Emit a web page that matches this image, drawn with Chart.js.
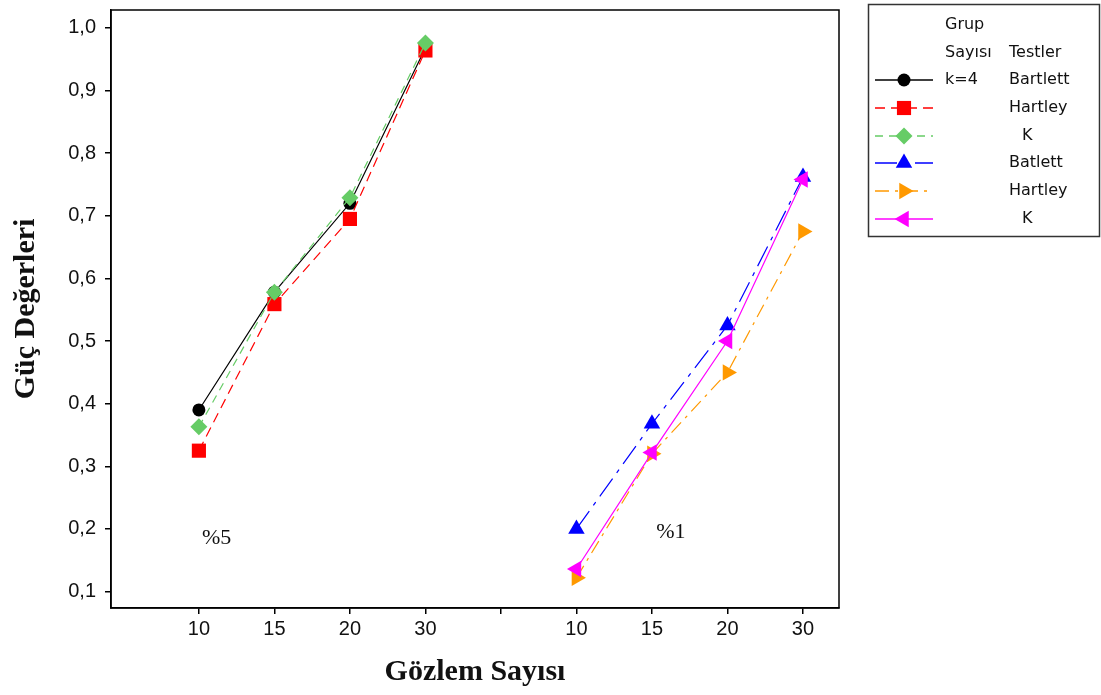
<!DOCTYPE html>
<html>
<head>
<meta charset="utf-8">
<script src="https://cdn.jsdelivr.net/npm/chart.js@4/dist/chart.umd.min.js"></script>
<style>
  html, body { margin: 0; padding: 0; background: #fff; }
  #wrap { width: 1101px; height: 695px; position: relative; }
</style>
</head>
<body>
<div id="wrap"><canvas id="chart" width="1101" height="695"></canvas></div>
<script>
// gozlem sayisi (iki grup: %5 ve %1)
var tickLabels = ['10', '15', '20', '30', '', '10', '15', '20', '30'];
var tickPositions = [1, 2, 3, 4, 5, 6, 7, 8, 9];
var leftX = [1, 2, 3, 4];
var rightX = [6, 7, 8, 9];
var yTicks = [0.1, 0.2, 0.3, 0.4, 0.5, 0.6, 0.7, 0.8, 0.9, 1.0];

// guc degerleri %5
var bartlett5 = [0.39, 0.578, 0.72, 0.968];
var hartley5 = [0.325, 0.559, 0.695, 0.964];
var k5 = [0.363, 0.578, 0.729, 0.976];

// guc degerleri %1
var batlett1 = [0.2, 0.368, 0.525, 0.762];
var hartley1 = [0.122, 0.32, 0.45, 0.675];
var k1 = [0.136, 0.322, 0.5, 0.758];

var tickFont = '"Liberation Sans", sans-serif';

function toPoints(xs, ys) {
    return xs.map(function (x, i) { return { x: x, y: ys[i] }; });
}

var datasets = [
    { label: 'Bartlett', data: toPoints(leftX, bartlett5), borderColor: '#000000', backgroundColor: '#000000',
      borderDash: [], pointStyle: 'circle', pointRadius: 6.5, rotation: 0 },
    { label: 'Hartley', data: toPoints(leftX, hartley5), borderColor: '#ff0000', backgroundColor: '#ff0000',
      borderDash: [10, 6], pointStyle: 'rect', pointRadius: 10, rotation: 0 },
    { label: 'K', data: toPoints(leftX, k5), borderColor: '#66cc66', backgroundColor: '#66cc66',
      borderDash: [8, 6], pointStyle: 'rectRot', pointRadius: 8.5, rotation: 0 },
    { label: 'Batlett', data: toPoints(rightX, batlett1), borderColor: '#0000ff', backgroundColor: '#0000ff',
      borderDash: [22, 7, 4, 7], pointStyle: 'triangle', pointRadius: 9.5, rotation: 0 },
    { label: 'Hartley', data: toPoints(rightX, hartley1), borderColor: '#ff9900', backgroundColor: '#ff9900',
      borderDash: [14, 6, 3, 6], pointStyle: 'triangle', pointRadius: 9.5, rotation: 90 },
    { label: 'K', data: toPoints(rightX, k1), borderColor: '#ff00ff', backgroundColor: '#ff00ff',
      borderDash: [], pointStyle: 'triangle', pointRadius: 9.5, rotation: -90 }
];
datasets.forEach(function (ds, i) {
    ds.borderWidth = 1.2;
    ds.pointBorderWidth = 0;
    ds.pointRotation = ds.rotation;
    ds.pointBackgroundColor = ds.backgroundColor;
    ds.showLine = true;
    ds.fill = false;
    ds.order = 10 - i; // sonraki seriler ustte
});

// kutu, etiketler (%5, %1) ve legend
var extras = {
    id: 'extras',
    afterDraw: function (chart) {
        var ctx = chart.ctx;
        var a = chart.chartArea;
        var xs = chart.scales.x, ys = chart.scales.y;
        ctx.save();
        ctx.strokeStyle = '#000';
        ctx.lineWidth = 1.5;
        ctx.strokeRect(a.left, a.top, a.right - a.left, a.bottom - a.top);

        ctx.fillStyle = '#111';
        ctx.font = '22px "Liberation Serif", serif';
        ctx.textAlign = 'center';
        ctx.textBaseline = 'middle';
        ctx.fillText('%5', xs.getPixelForValue(1.234), ys.getPixelForValue(0.186));
        ctx.fillText('%1', xs.getPixelForValue(7.25), ys.getPixelForValue(0.195));

        // legend
        ctx.lineWidth = 1.5;
        ctx.strokeStyle = '#333';
        ctx.strokeRect(868.5, 4.5, 231, 232);
        ctx.fillStyle = '#111';
        ctx.font = '16px "DejaVu Sans", sans-serif';
        ctx.textAlign = 'left';
        ctx.fillText('Grup', 945, 25);
        ctx.fillText('Sayısı', 945, 53);
        ctx.fillText('Testler', 1009, 53);
        ctx.fillText('k=4', 945, 80);
        var rowY = [80, 108, 136, 163, 191, 219];
        var names = ['Bartlett', 'Hartley', 'K', 'Batlett', 'Hartley', 'K'];
        var nameX = [1009, 1009, 1022, 1009, 1009, 1022];
        datasets.forEach(function (ds, i) {
            var y = rowY[i];
            ctx.strokeStyle = ds.borderColor;
            ctx.lineWidth = 1.5;
            ctx.setLineDash(ds.borderDash);
            ctx.beginPath();
            ctx.moveTo(875, y);
            ctx.lineTo(933, y);
            ctx.stroke();
            ctx.setLineDash([]);
            ctx.fillStyle = ds.backgroundColor;
            Chart.helpers.drawPoint(ctx, {
                pointStyle: ds.pointStyle, rotation: ds.rotation,
                radius: ds.pointRadius, borderWidth: 0
            }, 904, y);
            ctx.fillStyle = '#111';
            ctx.fillText(names[i], nameX[i], y);
        });
        ctx.restore();
    }
};

var ctx = document.getElementById('chart').getContext('2d');
new Chart(ctx, {
    type: 'scatter',
    data: { datasets: datasets },
    options: {
        responsive: false,
        animation: false,
        maintainAspectRatio: false,
        layout: { padding: { top: -2, right: 262, left: 0, bottom: 0 } },
        plugins: { legend: { display: false }, tooltip: { enabled: false } },
        scales: {
            x: {
                type: 'linear',
                min: -0.164,
                max: 9.477,
                afterBuildTicks: function (scale) {
                    scale.ticks = tickPositions.map(function (v) { return { value: v }; });
                },
                afterFit: function (scale) {
                    scale.height = 87;
                    scale.paddingLeft = 0;
                    scale.paddingRight = 0;
                },
                ticks: {
                    autoSkip: false,
                    maxRotation: 0,
                    padding: 3,
                    color: '#111',
                    font: { family: tickFont, size: 20 },
                    callback: function (v) {
                        var i = tickPositions.indexOf(v);
                        return i >= 0 ? tickLabels[i] : '';
                    }
                },
                grid: { drawOnChartArea: false, drawTicks: true, tickLength: 6, color: '#000', lineWidth: 1.5 },
                border: { color: '#000', width: 1.5 },
                title: {
                    display: true,
                    text: 'Gözlem Sayısı',
                    color: '#111',
                    font: { family: 'Liberation Serif', size: 30, weight: 'bold' },
                    padding: { top: 0, bottom: 5 }
                }
            },
            y: {
                type: 'linear',
                min: 0.0738,
                max: 1.0286,
                afterBuildTicks: function (scale) {
                    scale.ticks = yTicks.map(function (v) { return { value: v }; });
                },
                afterFit: function (scale) {
                    scale.width = 111;
                    scale.paddingTop = 0;
                    scale.paddingBottom = 0;
                },
                ticks: {
                    padding: 9,
                    color: '#111',
                    font: { family: tickFont, size: 20 },
                    callback: function (v) { return v.toFixed(1).replace('.', ','); }
                },
                grid: { drawOnChartArea: false, drawTicks: true, tickLength: 6, color: '#000', lineWidth: 1.5 },
                border: { color: '#000', width: 1.5 },
                title: {
                    display: true,
                    text: 'Güç Değerleri',
                    color: '#111',
                    font: { family: 'Liberation Serif', size: 30, weight: 'bold' },
                    padding: { top: 8, bottom: 0 }
                }
            }
        }
    },
    plugins: [extras]
});
</script>
</body>
</html>
